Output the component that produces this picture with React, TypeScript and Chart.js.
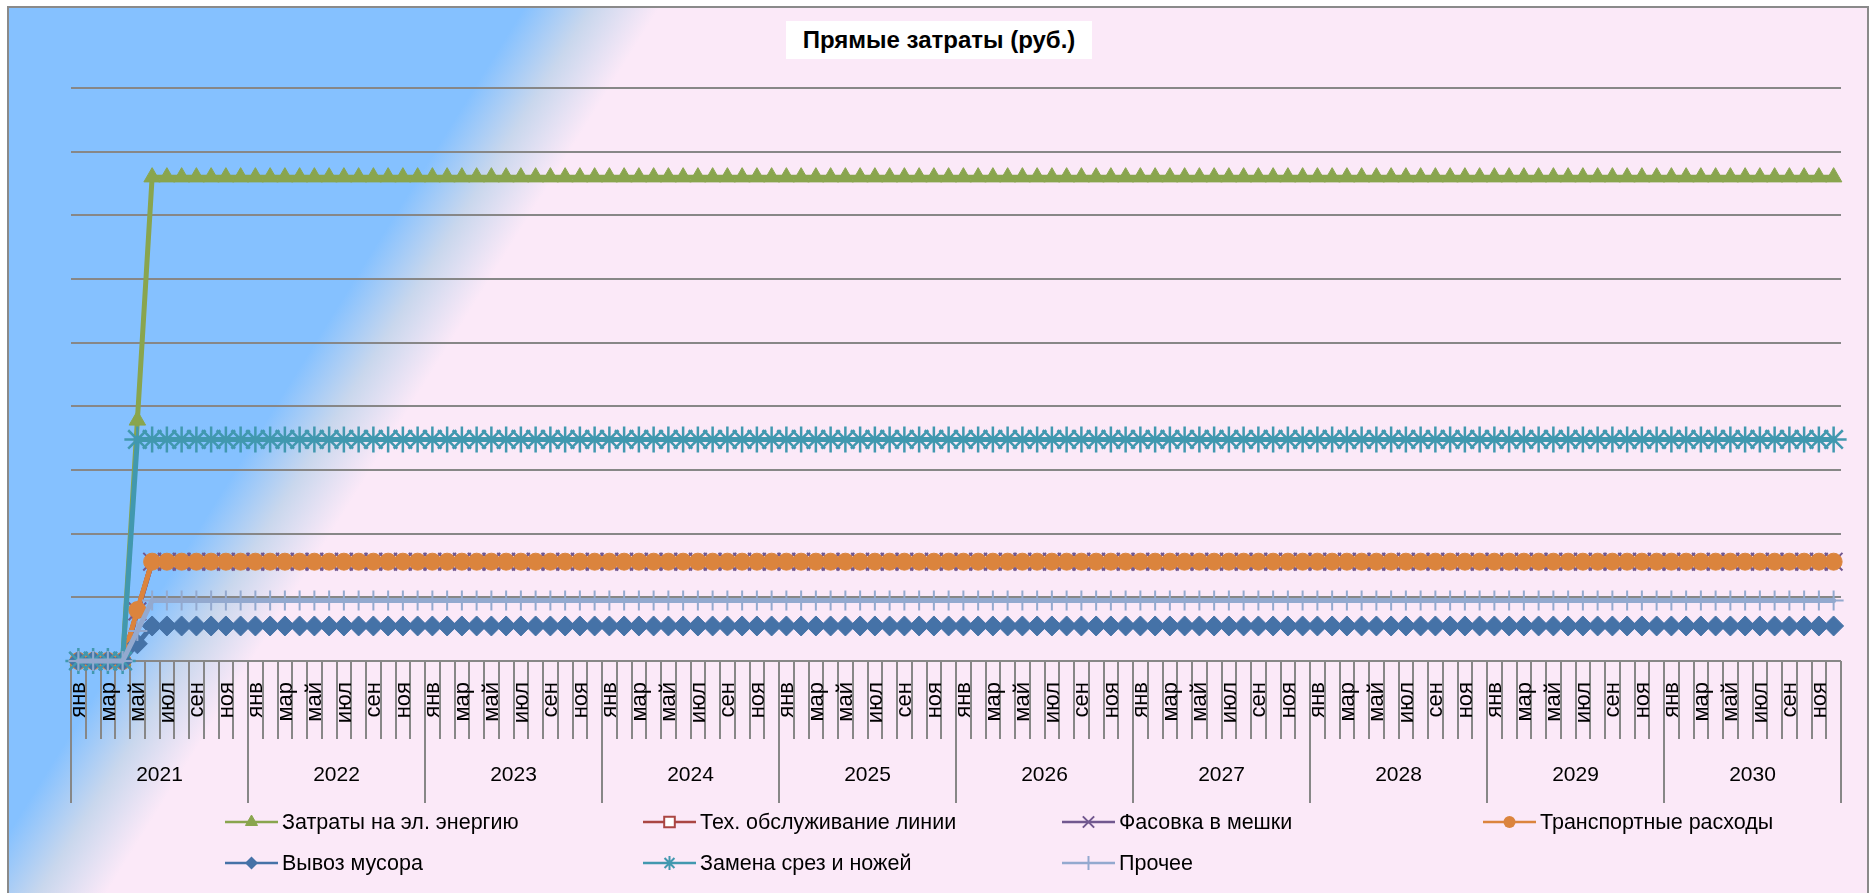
import React, { useEffect, useRef } from 'react';
import { Chart, registerables } from 'chart.js';

Chart.register(...registerables);

// ---------- DATA ----------
const years = ['2021', '2022', '2023', '2024', '2025', '2026', '2027', '2028', '2029', '2030'];
const monthNames = ['янв', 'фев', 'мар', 'апр', 'май', 'июн', 'июл', 'авг', 'сен', 'окт', 'ноя', 'дек'];
const categories = years.flatMap((y) => monthNames.map((m) => `${m} ${y}`));

const seriesNames = [
  'Затраты на эл. энергию',
  'Тех. обслуживание линии',
  'Фасовка в мешки',
  'Транспортные расходы',
  'Вывоз мусора',
  'Замена срез и ножей',
  'Прочее',
];

// values (relative units; the value axis carries no labels in the original)
const energy = [
  0, 0, 0, 0, 3.78, 7.6, 7.6, 7.6, 7.6, 7.6, 7.6, 7.6,
  7.6, 7.6, 7.6, 7.6, 7.6, 7.6, 7.6, 7.6, 7.6, 7.6, 7.6, 7.6,
  7.6, 7.6, 7.6, 7.6, 7.6, 7.6, 7.6, 7.6, 7.6, 7.6, 7.6, 7.6,
  7.6, 7.6, 7.6, 7.6, 7.6, 7.6, 7.6, 7.6, 7.6, 7.6, 7.6, 7.6,
  7.6, 7.6, 7.6, 7.6, 7.6, 7.6, 7.6, 7.6, 7.6, 7.6, 7.6, 7.6,
  7.6, 7.6, 7.6, 7.6, 7.6, 7.6, 7.6, 7.6, 7.6, 7.6, 7.6, 7.6,
  7.6, 7.6, 7.6, 7.6, 7.6, 7.6, 7.6, 7.6, 7.6, 7.6, 7.6, 7.6,
  7.6, 7.6, 7.6, 7.6, 7.6, 7.6, 7.6, 7.6, 7.6, 7.6, 7.6, 7.6,
  7.6, 7.6, 7.6, 7.6, 7.6, 7.6, 7.6, 7.6, 7.6, 7.6, 7.6, 7.6,
  7.6, 7.6, 7.6, 7.6, 7.6, 7.6, 7.6, 7.6, 7.6, 7.6, 7.6, 7.6,
];

const maintenance = [
  0, 0, 0, 0, 0.78, 1.56, 1.56, 1.56, 1.56, 1.56, 1.56, 1.56,
  1.56, 1.56, 1.56, 1.56, 1.56, 1.56, 1.56, 1.56, 1.56, 1.56, 1.56, 1.56,
  1.56, 1.56, 1.56, 1.56, 1.56, 1.56, 1.56, 1.56, 1.56, 1.56, 1.56, 1.56,
  1.56, 1.56, 1.56, 1.56, 1.56, 1.56, 1.56, 1.56, 1.56, 1.56, 1.56, 1.56,
  1.56, 1.56, 1.56, 1.56, 1.56, 1.56, 1.56, 1.56, 1.56, 1.56, 1.56, 1.56,
  1.56, 1.56, 1.56, 1.56, 1.56, 1.56, 1.56, 1.56, 1.56, 1.56, 1.56, 1.56,
  1.56, 1.56, 1.56, 1.56, 1.56, 1.56, 1.56, 1.56, 1.56, 1.56, 1.56, 1.56,
  1.56, 1.56, 1.56, 1.56, 1.56, 1.56, 1.56, 1.56, 1.56, 1.56, 1.56, 1.56,
  1.56, 1.56, 1.56, 1.56, 1.56, 1.56, 1.56, 1.56, 1.56, 1.56, 1.56, 1.56,
  1.56, 1.56, 1.56, 1.56, 1.56, 1.56, 1.56, 1.56, 1.56, 1.56, 1.56, 1.56,
];

const packing = [
  0, 0, 0, 0, 0.78, 1.56, 1.56, 1.56, 1.56, 1.56, 1.56, 1.56,
  1.56, 1.56, 1.56, 1.56, 1.56, 1.56, 1.56, 1.56, 1.56, 1.56, 1.56, 1.56,
  1.56, 1.56, 1.56, 1.56, 1.56, 1.56, 1.56, 1.56, 1.56, 1.56, 1.56, 1.56,
  1.56, 1.56, 1.56, 1.56, 1.56, 1.56, 1.56, 1.56, 1.56, 1.56, 1.56, 1.56,
  1.56, 1.56, 1.56, 1.56, 1.56, 1.56, 1.56, 1.56, 1.56, 1.56, 1.56, 1.56,
  1.56, 1.56, 1.56, 1.56, 1.56, 1.56, 1.56, 1.56, 1.56, 1.56, 1.56, 1.56,
  1.56, 1.56, 1.56, 1.56, 1.56, 1.56, 1.56, 1.56, 1.56, 1.56, 1.56, 1.56,
  1.56, 1.56, 1.56, 1.56, 1.56, 1.56, 1.56, 1.56, 1.56, 1.56, 1.56, 1.56,
  1.56, 1.56, 1.56, 1.56, 1.56, 1.56, 1.56, 1.56, 1.56, 1.56, 1.56, 1.56,
  1.56, 1.56, 1.56, 1.56, 1.56, 1.56, 1.56, 1.56, 1.56, 1.56, 1.56, 1.56,
];

const transport = [
  0, 0, 0, 0, 0.8, 1.56, 1.56, 1.56, 1.56, 1.56, 1.56, 1.56,
  1.56, 1.56, 1.56, 1.56, 1.56, 1.56, 1.56, 1.56, 1.56, 1.56, 1.56, 1.56,
  1.56, 1.56, 1.56, 1.56, 1.56, 1.56, 1.56, 1.56, 1.56, 1.56, 1.56, 1.56,
  1.56, 1.56, 1.56, 1.56, 1.56, 1.56, 1.56, 1.56, 1.56, 1.56, 1.56, 1.56,
  1.56, 1.56, 1.56, 1.56, 1.56, 1.56, 1.56, 1.56, 1.56, 1.56, 1.56, 1.56,
  1.56, 1.56, 1.56, 1.56, 1.56, 1.56, 1.56, 1.56, 1.56, 1.56, 1.56, 1.56,
  1.56, 1.56, 1.56, 1.56, 1.56, 1.56, 1.56, 1.56, 1.56, 1.56, 1.56, 1.56,
  1.56, 1.56, 1.56, 1.56, 1.56, 1.56, 1.56, 1.56, 1.56, 1.56, 1.56, 1.56,
  1.56, 1.56, 1.56, 1.56, 1.56, 1.56, 1.56, 1.56, 1.56, 1.56, 1.56, 1.56,
  1.56, 1.56, 1.56, 1.56, 1.56, 1.56, 1.56, 1.56, 1.56, 1.56, 1.56, 1.56,
];

const waste = [
  0, 0, 0, 0, 0.27, 0.55, 0.55, 0.55, 0.55, 0.55, 0.55, 0.55,
  0.55, 0.55, 0.55, 0.55, 0.55, 0.55, 0.55, 0.55, 0.55, 0.55, 0.55, 0.55,
  0.55, 0.55, 0.55, 0.55, 0.55, 0.55, 0.55, 0.55, 0.55, 0.55, 0.55, 0.55,
  0.55, 0.55, 0.55, 0.55, 0.55, 0.55, 0.55, 0.55, 0.55, 0.55, 0.55, 0.55,
  0.55, 0.55, 0.55, 0.55, 0.55, 0.55, 0.55, 0.55, 0.55, 0.55, 0.55, 0.55,
  0.55, 0.55, 0.55, 0.55, 0.55, 0.55, 0.55, 0.55, 0.55, 0.55, 0.55, 0.55,
  0.55, 0.55, 0.55, 0.55, 0.55, 0.55, 0.55, 0.55, 0.55, 0.55, 0.55, 0.55,
  0.55, 0.55, 0.55, 0.55, 0.55, 0.55, 0.55, 0.55, 0.55, 0.55, 0.55, 0.55,
  0.55, 0.55, 0.55, 0.55, 0.55, 0.55, 0.55, 0.55, 0.55, 0.55, 0.55, 0.55,
  0.55, 0.55, 0.55, 0.55, 0.55, 0.55, 0.55, 0.55, 0.55, 0.55, 0.55, 0.55,
];

const knives = [
  0, 0, 0, 0, 3.48, 3.48, 3.48, 3.48, 3.48, 3.48, 3.48, 3.48,
  3.48, 3.48, 3.48, 3.48, 3.48, 3.48, 3.48, 3.48, 3.48, 3.48, 3.48, 3.48,
  3.48, 3.48, 3.48, 3.48, 3.48, 3.48, 3.48, 3.48, 3.48, 3.48, 3.48, 3.48,
  3.48, 3.48, 3.48, 3.48, 3.48, 3.48, 3.48, 3.48, 3.48, 3.48, 3.48, 3.48,
  3.48, 3.48, 3.48, 3.48, 3.48, 3.48, 3.48, 3.48, 3.48, 3.48, 3.48, 3.48,
  3.48, 3.48, 3.48, 3.48, 3.48, 3.48, 3.48, 3.48, 3.48, 3.48, 3.48, 3.48,
  3.48, 3.48, 3.48, 3.48, 3.48, 3.48, 3.48, 3.48, 3.48, 3.48, 3.48, 3.48,
  3.48, 3.48, 3.48, 3.48, 3.48, 3.48, 3.48, 3.48, 3.48, 3.48, 3.48, 3.48,
  3.48, 3.48, 3.48, 3.48, 3.48, 3.48, 3.48, 3.48, 3.48, 3.48, 3.48, 3.48,
  3.48, 3.48, 3.48, 3.48, 3.48, 3.48, 3.48, 3.48, 3.48, 3.48, 3.48, 3.48,
];

const other = [
  0, 0, 0, 0, 0.47, 0.95, 0.95, 0.95, 0.95, 0.95, 0.95, 0.95,
  0.95, 0.95, 0.95, 0.95, 0.95, 0.95, 0.95, 0.95, 0.95, 0.95, 0.95, 0.95,
  0.95, 0.95, 0.95, 0.95, 0.95, 0.95, 0.95, 0.95, 0.95, 0.95, 0.95, 0.95,
  0.95, 0.95, 0.95, 0.95, 0.95, 0.95, 0.95, 0.95, 0.95, 0.95, 0.95, 0.95,
  0.95, 0.95, 0.95, 0.95, 0.95, 0.95, 0.95, 0.95, 0.95, 0.95, 0.95, 0.95,
  0.95, 0.95, 0.95, 0.95, 0.95, 0.95, 0.95, 0.95, 0.95, 0.95, 0.95, 0.95,
  0.95, 0.95, 0.95, 0.95, 0.95, 0.95, 0.95, 0.95, 0.95, 0.95, 0.95, 0.95,
  0.95, 0.95, 0.95, 0.95, 0.95, 0.95, 0.95, 0.95, 0.95, 0.95, 0.95, 0.95,
  0.95, 0.95, 0.95, 0.95, 0.95, 0.95, 0.95, 0.95, 0.95, 0.95, 0.95, 0.95,
  0.95, 0.95, 0.95, 0.95, 0.95, 0.95, 0.95, 0.95, 0.95, 0.95, 0.95, 0.95,
];

const seriesValues = [energy, maintenance, packing, transport, waste, knives, other];

const yMax = 9;
const yStep = 1;

// ---------- STYLES ----------
const FONT = '"Liberation Sans", Arial, sans-serif';
const GRID = '#878787';

type Style = {
  color: string;
  fill: string;
  point: string;
  radius: number;
  markerWidth: number;
  legendRadius: number;
};

const styles: Style[] = [
  { color: '#89A54E', fill: '#89A54E', point: 'triangle', radius: 9.5, markerWidth: 1, legendRadius: 7 },
  { color: '#AA4643', fill: '#FFFFFF', point: 'rect', radius: 8, markerWidth: 2, legendRadius: 7.5 },
  { color: '#71588F', fill: '#71588F', point: 'crossRot', radius: 12.5, markerWidth: 2, legendRadius: 8 },
  { color: '#DB843D', fill: '#DB843D', point: 'circle', radius: 8.5, markerWidth: 1, legendRadius: 6 },
  { color: '#4572A7', fill: '#4572A7', point: 'rectRot', radius: 10, markerWidth: 1, legendRadius: 6.5 },
  { color: '#4198AF', fill: '#4198AF', point: 'star', radius: 13, markerWidth: 2.5, legendRadius: 7 },
  { color: '#93A9CF', fill: '#93A9CF', point: 'cross', radius: 10, markerWidth: 2, legendRadius: 7 },
];

function drawMarker(ctx: CanvasRenderingContext2D, kind: string, x: number, y: number, r: number, st: Style) {
  ctx.save();
  ctx.fillStyle = st.fill;
  ctx.strokeStyle = st.color;
  ctx.lineWidth = Math.min(st.markerWidth, 2);
  ctx.beginPath();
  if (kind === 'triangle') {
    ctx.moveTo(x, y - r);
    ctx.lineTo(x + r * 0.866, y + r * 0.5);
    ctx.lineTo(x - r * 0.866, y + r * 0.5);
    ctx.closePath();
    ctx.fill();
    ctx.stroke();
  } else if (kind === 'rect') {
    const s = r * Math.SQRT1_2;
    ctx.rect(x - s, y - s, 2 * s, 2 * s);
    ctx.fill();
    ctx.stroke();
  } else if (kind === 'circle') {
    ctx.arc(x, y, r, 0, Math.PI * 2);
    ctx.fill();
  } else if (kind === 'rectRot') {
    ctx.moveTo(x, y - r);
    ctx.lineTo(x + r, y);
    ctx.lineTo(x, y + r);
    ctx.lineTo(x - r, y);
    ctx.closePath();
    ctx.fill();
  } else if (kind === 'crossRot') {
    const s = r * Math.SQRT1_2;
    ctx.moveTo(x - s, y - s);
    ctx.lineTo(x + s, y + s);
    ctx.moveTo(x - s, y + s);
    ctx.lineTo(x + s, y - s);
    ctx.stroke();
  } else if (kind === 'star') {
    const s = r * Math.SQRT1_2;
    ctx.moveTo(x - s, y - s);
    ctx.lineTo(x + s, y + s);
    ctx.moveTo(x - s, y + s);
    ctx.lineTo(x + s, y - s);
    ctx.moveTo(x, y - r);
    ctx.lineTo(x, y + r);
    ctx.stroke();
  } else if (kind === 'cross') {
    ctx.moveTo(x, y - r);
    ctx.lineTo(x, y + r);
    ctx.moveTo(x - r, y);
    ctx.lineTo(x + r, y);
    ctx.stroke();
  }
  ctx.restore();
}

// x axis: month ticks + year groups
const xAxisPlugin = {
  id: 'groupedXAxis',
  beforeDatasetsDraw(chart: any) {
    const ctx: CanvasRenderingContext2D = chart.ctx;
    const xs = chart.scales.x;
    const area = chart.chartArea;
    const n = chart.data.labels.length;
    const w = xs.getPixelForValue(1) - xs.getPixelForValue(0);
    const start = xs.getPixelForValue(0) - w / 2;
    const y0 = area.bottom;
    ctx.save();
    ctx.strokeStyle = GRID;
    ctx.lineWidth = 2;
    for (let i = 0; i <= n; i++) {
      const px = Math.round(start + i * w);
      const len = i % 12 === 0 ? 142 : 78;
      ctx.beginPath();
      ctx.moveTo(px, y0);
      ctx.lineTo(px, y0 + len);
      ctx.stroke();
    }
    ctx.fillStyle = '#000000';
    ctx.font = `22px ${FONT}`;
    for (let i = 0; i < n; i++) {
      const m = i % 12;
      if (m % 2 !== 0) continue;
      const cx = xs.getPixelForValue(i);
      ctx.save();
      ctx.translate(cx, y0 + 21);
      ctx.rotate(-Math.PI / 2);
      ctx.textAlign = 'right';
      ctx.textBaseline = 'alphabetic';
      ctx.fillText(monthNames[m], 0, 7);
      ctx.restore();
    }
    ctx.font = `21px ${FONT}`;
    ctx.textAlign = 'center';
    ctx.textBaseline = 'middle';
    years.forEach((yr, k) => {
      const cx = (xs.getPixelForValue(k * 12) + xs.getPixelForValue(k * 12 + 11)) / 2;
      ctx.fillText(yr, cx, y0 + 114);
    });
    ctx.restore();
  },
};

const legendCols = [225, 643, 1062, 1483];
const legendRows = [822, 863];

const legendPlugin = {
  id: 'gridLegend',
  afterDraw(chart: any) {
    const ctx: CanvasRenderingContext2D = chart.ctx;
    ctx.save();
    ctx.font = `21.5px ${FONT}`;
    ctx.textBaseline = 'middle';
    ctx.textAlign = 'left';
    seriesNames.forEach((name, i) => {
      const st = styles[i];
      const x = legendCols[i % 4];
      const y = legendRows[Math.floor(i / 4)];
      ctx.strokeStyle = st.color;
      ctx.lineWidth = 2.5;
      ctx.beginPath();
      ctx.moveTo(x, y);
      ctx.lineTo(x + 53, y);
      ctx.stroke();
      drawMarker(ctx, st.point, x + 26.5, y, st.legendRadius, st);
      ctx.fillStyle = '#000000';
      ctx.fillText(name, x + 57, y + 1);
    });
    ctx.restore();
  },
};

export default function App() {
  const canvasRef = useRef<HTMLCanvasElement | null>(null);

  useEffect(() => {
    const canvas = canvasRef.current;
    if (!canvas) return;
    const n = seriesNames.length;
    const chart = new Chart(canvas, {
      type: 'line',
      data: {
        labels: categories,
        datasets: seriesNames.map((name, i) => ({
          label: name,
          data: seriesValues[i],
          borderColor: styles[i].color,
          backgroundColor: styles[i].fill,
          borderWidth: 5,
          borderJoinStyle: 'round' as const,
          borderCapStyle: 'round' as const,
          pointStyle: styles[i].point as any,
          pointRadius: styles[i].radius,
          pointBorderColor: styles[i].color,
          pointBackgroundColor: styles[i].fill,
          pointBorderWidth: styles[i].markerWidth,
          tension: 0,
          fill: false,
          clip: false as any,
          order: n - 1 - i,
        })),
      },
      options: {
        responsive: false,
        animation: false,
        layout: { padding: { left: 71, right: 33, top: 88, bottom: 232 } },
        plugins: {
          legend: { display: false },
          title: { display: false },
          tooltip: { enabled: false },
        },
        scales: {
          x: {
            type: 'category',
            display: false,
            offset: true,
          },
          y: {
            min: 0,
            max: yMax,
            display: true,
            ticks: { display: false, stepSize: yStep },
            border: { display: false },
            grid: { color: GRID, lineWidth: 2, drawTicks: false },
            afterFit: (scale: any) => {
              scale.width = 0;
            },
          },
        },
      },
      plugins: [xAxisPlugin, legendPlugin],
    });
    return () => chart.destroy();
  }, []);

  return (
    <div style={{ position: 'fixed', left: 0, top: 0, width: 1874, height: 893, overflow: 'hidden', background: '#ffffff' }}>
      <div
        style={{
          position: 'absolute',
          left: 7,
          top: 6,
          width: 1862,
          height: 900,
          boxSizing: 'border-box',
          border: '2px solid #8a8a8a',
          background:
            'linear-gradient(122deg, #85c1ff 0%, #85c1ff 21.3%, #c9d7ed 24.1%, #fbe9f8 26.9%, #fbe9f8 100%)',
        }}
      />
      <div
        style={{
          position: 'absolute',
          left: 786,
          top: 21,
          width: 306,
          height: 38,
          background: '#ffffff',
          fontFamily: FONT,
          fontWeight: 'bold',
          fontSize: 24,
          lineHeight: '38px',
          textAlign: 'center',
          color: '#000000',
          whiteSpace: 'nowrap',
        }}
      >
        Прямые затраты (руб.)
      </div>
      <canvas ref={canvasRef} width={1874} height={893} style={{ position: 'absolute', left: 0, top: 0, width: 1874, height: 893 }} />
    </div>
  );
}
